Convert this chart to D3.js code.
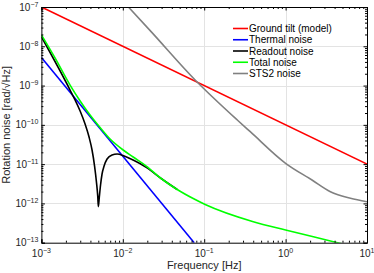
<!DOCTYPE html>
<html>
<head>
<meta charset="utf-8">
<script src="https://cdn.jsdelivr.net/npm/d3@7"></script>
<style>
  html, body { margin: 0; padding: 0; background: #fff; }
  svg { display: block; font-family: 'Liberation Sans', Arial, sans-serif; }
</style>
</head>
<body>
<svg id="chart" width="374" height="273"></svg>
<script>
// ── data (frequency [Hz], noise [rad/√Hz]) ──
const freqTicks  = [1e-3, 1e-2, 1e-1, 1, 10];
const noiseTicks = [1e-13, 1e-12, 1e-11, 1e-10, 1e-9, 1e-8, 1e-7];

const groundTilt = [[1e-3, 1e-7], [10, 1e-11]];
const thermal    = [[1e-3, 5.2e-9], [0.0753, 1e-13]];
const readout = [
  [1e-3, 1.75e-8], [2.25e-3, 7.7e-10], [2.59e-3, 4.3e-10], [2.99e-3, 2.25e-10],
  [3.44e-3, 1.05e-10], [3.85e-3, 4.9e-11], [4.19e-3, 2.29e-11], [4.50e-3, 8.95e-12],
  [4.76e-3, 3.3e-12], [4.92e-3, 1.54e-12], [5.01e-3, 8.3e-13], [5.15e-3, 1.48e-12],
  [5.33e-3, 2.94e-12], [5.56e-3, 5.61e-12], [5.89e-3, 8.95e-12], [6.41e-3, 1.35e-11],
  [7.38e-3, 1.71e-11], [8.51e-3, 1.81e-11], [1.04e-2, 1.61e-11], [1.34e-2, 1.27e-11],
  [1.94e-2, 8.3e-12], [2.96e-2, 4.31e-12], [4.66e-2, 2.26e-12]
];
const total = [
  [1e-3, 1.94e-8], [1.47e-3, 5.04e-9], [2.25e-3, 1.03e-9], [2.99e-3, 4.05e-10],
  [3.96e-3, 1.78e-10], [5.26e-3, 8.55e-11], [6.98e-3, 4.36e-11], [1.01e-2, 2.29e-11],
  [1.34e-2, 1.52e-11], [1.94e-2, 8.95e-12], [2.96e-2, 4.31e-12], [4.66e-2, 2.26e-12],
  [7.33e-2, 1.33e-12], [0.1028, 9.4e-13], [0.401, 3.42e-13], [1.0, 2.1e-13],
  [3.87, 1.06e-13], [10, 6.5e-14]
];
const sts2 = [
  [0.01172, 1e-7], [0.0217, 2.51e-8], [0.0774, 1.39e-9], [0.255, 1.33e-10],
  [0.368, 6.69e-11], [1.0, 1.05e-11], [2.11, 3.94e-12], [3.55, 1.99e-12],
  [6.26, 1.35e-12], [10, 1.1e-12]
];

const series = [
  { name: 'Ground tilt (model)', color: '#ff0000', data: groundTilt },
  { name: 'Thermal noise',       color: '#0000ff', data: thermal },
  { name: 'Readout noise',       color: '#000000', data: readout },
  { name: 'Total noise',         color: '#00ff00', data: total },
  { name: 'STS2 noise',          color: '#808080', data: sts2 },
];

// ── layout ──
const L = 41.4, R = 367, T = 7, B = 242.7;
const x = d3.scaleLog().domain([1e-3, 10]).range([L, R]);
const y = d3.scaleLog().domain([1e-13, 1e-7]).range([B, T]);

const svg = d3.select('#chart');

svg.append('defs').append('clipPath').attr('id', 'plot-clip')
  .append('rect').attr('x', L).attr('y', T).attr('width', R - L).attr('height', B - T);

// grid
const grid = svg.append('g').attr('stroke', '#e3e3e3').attr('stroke-width', 1);
grid.selectAll('line.gx').data(freqTicks.slice(1, -1)).join('line')
  .attr('x1', d => Math.round(x(d)) + 0.5).attr('x2', d => Math.round(x(d)) + 0.5)
  .attr('y1', T).attr('y2', B);
grid.selectAll('line.gy').data(noiseTicks.slice(1, -1)).join('line')
  .attr('y1', d => Math.round(y(d)) + 0.5).attr('y2', d => Math.round(y(d)) + 0.5)
  .attr('x1', L).attr('x2', R);

// curves
const line = d3.line()
  .x(d => x(d[0])).y(d => y(d[1]))
  .curve(d3.curveMonotoneX);

const plot = svg.append('g').attr('clip-path', 'url(#plot-clip)');
plot.selectAll('path').data(series).join('path')
  .attr('d', d => line(d.data))
  .attr('fill', 'none')
  .attr('stroke', d => d.color)
  .attr('stroke-width', 1.6)
  .attr('stroke-linejoin', 'round');

// axes — ticks inward, minor ticks on log scales
const isMajor = v => Math.abs(Math.log10(v) - Math.round(Math.log10(v))) < 1e-6;
const xMinor = x.ticks().filter(v => !isMajor(v));
const yMinor = y.ticks().filter(v => !isMajor(v));

function addAxis(axisFn, scale, transform, major, minor) {
  const g = svg.append('g').attr('transform', transform);
  g.call(axisFn(scale).tickValues(major).tickSize(-3.5).tickFormat(''));
  g.append('g').call(axisFn(scale).tickValues(minor).tickSize(-2).tickFormat(''))
    .select('.domain').remove();
  g.selectAll('line').attr('stroke', '#000');
  g.selectAll('.domain').attr('stroke', '#000');
  return g;
}
addAxis(d3.axisBottom, x, `translate(0,${B})`, freqTicks, xMinor);
addAxis(d3.axisTop, x, `translate(0,${T})`, freqTicks, xMinor);
addAxis(d3.axisLeft, y, `translate(${L},0)`, noiseTicks, yMinor);
addAxis(d3.axisRight, y, `translate(${R},0)`, noiseTicks, yMinor);

// tick labels as 10^n
const expo = v => String(Math.round(Math.log10(v))).replace('-', '\u2212');
const xl = svg.append('g').attr('font-size', 10).attr('fill', '#262626');
freqTicks.forEach(v => {
  const t = xl.append('text').attr('x', x(v)).attr('y', B + 14).attr('text-anchor', 'middle');
  t.append('tspan').text('10');
  t.append('tspan').attr('dy', -4).attr('font-size', 7).text(expo(v));
});
const yl = svg.append('g').attr('font-size', 10).attr('fill', '#262626');
noiseTicks.forEach(v => {
  const t = yl.append('text').attr('x', L - 3).attr('y', y(v) + 3.5).attr('text-anchor', 'end');
  t.append('tspan').text('10');
  t.append('tspan').attr('dy', -4).attr('font-size', 7).text(expo(v));
});

// axis titles
svg.append('text')
  .attr('x', (L + R) / 2).attr('y', 269)
  .attr('text-anchor', 'middle').attr('font-size', 11).attr('fill', '#262626')
  .text('Frequency [Hz]');
svg.append('text')
  .attr('transform', `translate(9.5,${(T + B) / 2}) rotate(-90)`)
  .attr('text-anchor', 'middle').attr('font-size', 11).attr('fill', '#262626')
  .text('Rotation noise [rad/\u221AHz]');

// legend
const leg = svg.append('g').attr('transform', 'translate(233,28.5)');
series.forEach((s, i) => {
  const row = leg.append('g').attr('transform', `translate(0,${i * 11.25})`);
  row.append('line').attr('x1', 0).attr('x2', 15).attr('y1', 0).attr('y2', 0)
    .attr('stroke', s.color).attr('stroke-width', 1.6);
  row.append('text').attr('x', 16).attr('y', 3.5).attr('font-size', 10).attr('fill', '#000')
    .text(s.name);
});
</script>
</body>
</html>
